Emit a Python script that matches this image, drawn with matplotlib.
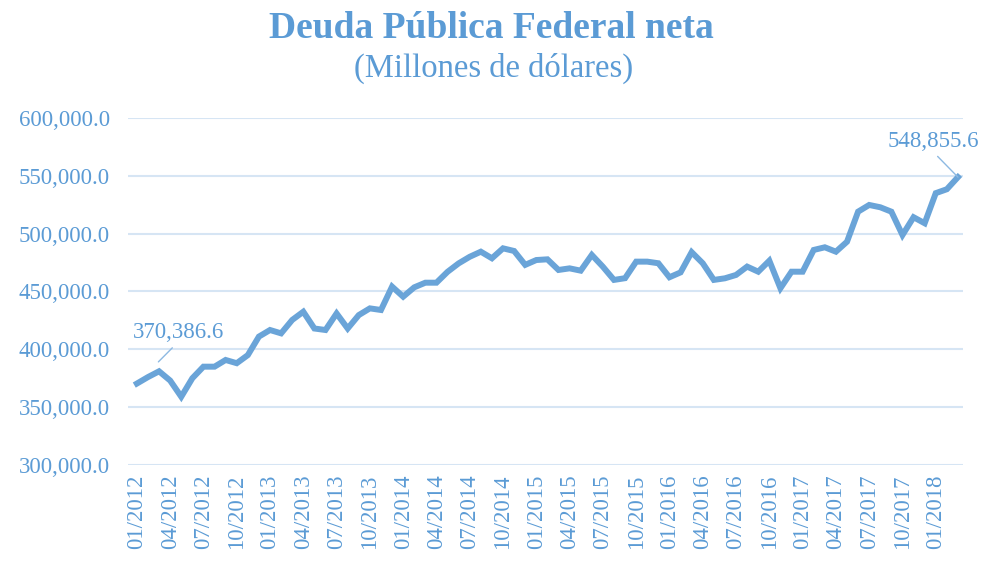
import matplotlib.pyplot as plt
from matplotlib.ticker import FuncFormatter
import numpy as np

blue = "#5B9BD5"
line_blue = "#6AA4D8"
grid_blue = "#D6E5F4"

# monthly values, 01/2012 .. 03/2018 (millones de dolares)
deuda = [370386.6, 376000, 381000, 373000, 359000, 375000, 385000, 385000,
         390800, 388000, 395000, 411000, 416700, 413800, 425400, 432500,
         418000, 416700, 431000, 418000, 429600, 435400, 434000, 454200,
         445500, 453600, 457600, 457600, 467000, 474300, 480000, 484400,
         478700, 487300, 485000, 473000, 477200, 477800, 468600, 470000,
         468000, 481600, 471400, 460000, 461500, 475800, 475800, 474400,
         462300, 466500, 484000, 474400, 460000, 461400, 464300, 471500,
         467100, 476600, 452800, 467100, 467100, 485900, 488200, 484400,
         493000, 519000, 524800, 522800, 519000, 498800, 514200, 509000,
         535000, 538400, 548855.6]
meses = [f"{(k % 12) + 1:02d}/{2012 + k // 12}" for k in range(len(deuda))]
yticks = [300000, 350000, 400000, 450000, 500000, 550000, 600000]

plt.rcParams['font.family'] = ['Liberation Serif', 'DejaVu Serif']

fig = plt.figure(figsize=(9.83, 5.65), dpi=100)
ax = fig.add_axes([0.1302, 0.177, 0.8494, 0.6142])

x = np.arange(len(deuda))
ax.plot(x, deuda, color=line_blue, lw=4.3, solid_joinstyle='miter', zorder=3)

ax.set_ylim(300000, 600000)
ax.set_xlim(-0.8, 74.45)
ax.set_yticks(yticks)
ax.yaxis.set_major_formatter(FuncFormatter(lambda v, p: f"{v:,.1f}"))
ax.grid(axis='y', color=grid_blue, lw=1.5, zorder=0)
ax.set_xticks(x[::3])
ax.set_xticklabels(meses[::3], rotation=90)
ax.tick_params(axis='both', length=0, colors=blue, labelsize=16.5)
ax.tick_params(axis='y', pad=13)
ax.tick_params(axis='x', pad=7)
for s in ax.spines.values():
    s.set_visible(False)

ax.annotate(f"{deuda[0]:,.1f}", xy=(0, deuda[0]), xytext=(42, 51), textcoords='offset pixels',
            ha='center', va='center', color=blue, fontsize=16.5,
            arrowprops=dict(arrowstyle='-', color="#8DB9E2", lw=1, shrinkA=2, shrinkB=22, relpos=(0.48, 0)))
ax.annotate(f"{deuda[-1]:,.1f}", xy=(x[-1], deuda[-1]), xytext=(-25, 36), textcoords='offset pixels',
            ha='center', va='center', color=blue, fontsize=16.5, annotation_clip=False,
            arrowprops=dict(arrowstyle='-', color="#8DB9E2", lw=1, shrinkA=2, shrinkB=0, relpos=(0.5, 0)))

fig.text(0.5, 1 - 28 / 565, "Deuda Pública Federal neta", ha='center', va='center',
         color=blue, fontsize=27, fontweight='bold')
fig.text(0.502, 1 - 68 / 565, "(Millones de dólares)", ha='center', va='center',
         color=blue, fontsize=23.5)

fig.savefig("out.png", dpi=100)
